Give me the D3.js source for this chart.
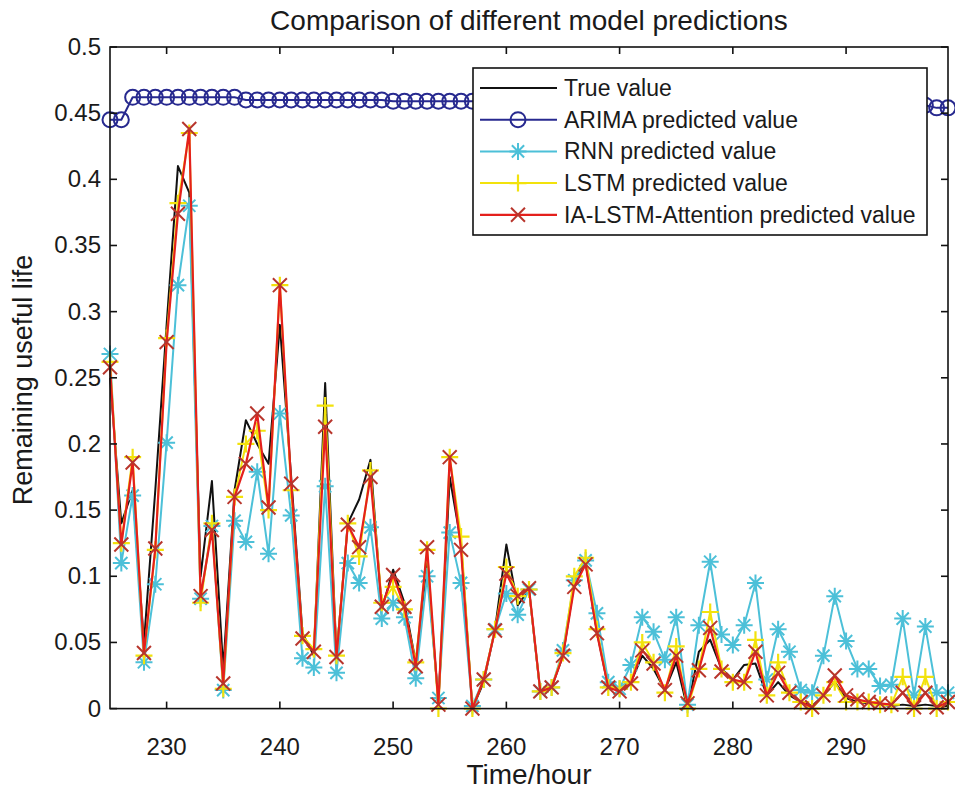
<!DOCTYPE html>
<html><head><meta charset="utf-8">
<script src="https://cdn.jsdelivr.net/npm/d3@7"></script>
<style>body{margin:0;background:#fff}svg{display:block}text{font-family:"Liberation Sans",Arial,sans-serif;fill:#1a1a1a}</style>
</head><body><svg id="c" width="955" height="792"></svg>
<script>
const hours = d3.range(225, 300);
const trueValue = [0.25,0.14,0.165,0.05,0.165,0.29,0.41,0.39,0.10,0.172,0.03,0.165,0.218,0.2,0.185,0.29,0.175,0.057,0.04,0.246,0.04,0.14,0.158,0.188,0.075,0.105,0.08,0.035,0.11,0.005,0.175,0.125,0.0,0.02,0.06,0.124,0.078,0.09,0.012,0.016,0.04,0.095,0.11,0.058,0.016,0.015,0.02,0.04,0.03,0.014,0.035,0.0,0.043,0.052,0.03,0.022,0.033,0.034,0.01,0.02,0.01,0.005,0.002,0.01,0.02,0.008,0.005,0.004,0.003,0.002,0.003,0.002,0.003,0.002,0.002];
const arimaPred = [0.445,0.445,0.462,0.462,0.462,0.462,0.462,0.462,0.462,0.462,0.462,0.462,0.46,0.46,0.46,0.46,0.46,0.46,0.46,0.46,0.46,0.46,0.46,0.46,0.46,0.459,0.459,0.459,0.459,0.459,0.459,0.459,0.459,0.459,0.459,0.459,0.459,0.459,0.459,0.459,0.459,0.459,0.459,0.459,0.459,0.459,0.459,0.459,0.459,0.459,0.459,0.459,0.459,0.459,0.459,0.459,0.459,0.459,0.459,0.459,0.459,0.459,0.459,0.459,0.459,0.459,0.459,0.459,0.459,0.459,0.459,0.459,0.456,0.454,0.454];
const rnnPred = [0.268,0.11,0.161,0.035,0.094,0.201,0.32,0.38,0.083,0.138,0.014,0.142,0.126,0.179,0.117,0.223,0.146,0.038,0.031,0.168,0.027,0.11,0.095,0.137,0.068,0.08,0.069,0.023,0.1,0.008,0.133,0.095,0.002,0.022,0.06,0.087,0.071,0.09,0.013,0.016,0.044,0.097,0.112,0.072,0.02,0.015,0.033,0.069,0.058,0.037,0.069,0.003,0.063,0.111,0.056,0.048,0.063,0.095,0.022,0.06,0.043,0.014,0.012,0.04,0.085,0.051,0.03,0.03,0.017,0.018,0.068,0.01,0.062,0.012,0.012];
const lstmPred = [0.262,0.125,0.19,0.04,0.12,0.28,0.382,0.435,0.08,0.14,0.015,0.16,0.2,0.21,0.15,0.32,0.165,0.055,0.045,0.229,0.04,0.14,0.115,0.18,0.08,0.092,0.075,0.035,0.12,0.0,0.19,0.13,0.0,0.022,0.06,0.107,0.085,0.09,0.013,0.016,0.042,0.1,0.114,0.06,0.016,0.015,0.02,0.05,0.035,0.012,0.047,0.0,0.03,0.073,0.03,0.02,0.02,0.052,0.01,0.035,0.012,0.005,0.0,0.01,0.02,0.005,0.005,0.005,0.003,0.003,0.024,0.0,0.024,0.0,0.005];
const iaPred = [0.258,0.124,0.186,0.042,0.121,0.277,0.374,0.438,0.085,0.135,0.019,0.16,0.185,0.223,0.152,0.32,0.17,0.053,0.043,0.213,0.039,0.139,0.122,0.175,0.077,0.101,0.077,0.032,0.122,0.003,0.19,0.12,0.0,0.022,0.059,0.102,0.085,0.091,0.013,0.016,0.04,0.092,0.109,0.057,0.016,0.013,0.019,0.044,0.034,0.014,0.04,0.004,0.029,0.061,0.028,0.022,0.02,0.043,0.01,0.027,0.012,0.005,0.001,0.01,0.025,0.01,0.007,0.005,0.004,0.003,0.012,0.001,0.012,0.001,0.005];
const xTicks = [230,240,250,260,270,280,290];
const yTicks = [0,0.05,0.1,0.15,0.2,0.25,0.3,0.35,0.4,0.45,0.5];
const seriesNames = ["True value","ARIMA predicted value","RNN predicted value","LSTM predicted value","IA-LSTM-Attention predicted value"];
const titleText = "Comparison of different model predictions";
const xLabel = "Time/hour";
const yLabel = "Remaining useful life";

const L=110,R=948,T=47,B=708.6;
const svg=d3.select("#c");
const x=d3.scaleLinear().domain([225,299]).range([L,R]);
const y=d3.scaleLinear().domain([0,0.5]).range([B,T]);

const styles=[
 {data:trueValue,color:"#111111",marker:"none",w:2},
 {data:arimaPred,color:"#27298f",marker:"circle",w:2},
 {data:rnnPred,color:"#4cc0d8",marker:"star",w:2},
 {data:lstmPred,color:"#f2e20c",marker:"plus",w:2},
 {data:iaPred,color:"#e4201c",marker:"x",w:2.2,mcolor:"#b8352c"}
];

function drawMarker(g,type,cx,cy,color){
  const s=8.5;
  if(type==="circle"){g.append("circle").attr("cx",cx).attr("cy",cy).attr("r",7.5).attr("fill","none").attr("stroke",color).attr("stroke-width",2);}
  else if(type==="plus"){g.append("path").attr("d",`M${cx-s},${cy}H${cx+s}M${cx},${cy-s}V${cy+s}`).attr("stroke",color).attr("stroke-width",2.2);}
  else if(type==="x"){const k=s*0.82;g.append("path").attr("d",`M${cx-k},${cy-k}L${cx+k},${cy+k}M${cx-k},${cy+k}L${cx+k},${cy-k}`).attr("stroke",color).attr("stroke-width",2);}
  else if(type==="star"){const k=s*0.72;g.append("path").attr("d",`M${cx-s},${cy}H${cx+s}M${cx},${cy-s}V${cy+s}M${cx-k},${cy-k}L${cx+k},${cy+k}M${cx-k},${cy+k}L${cx+k},${cy-k}`).attr("stroke",color).attr("stroke-width",2);}
}

svg.append("rect").attr("x",L).attr("y",T).attr("width",R-L).attr("height",B-T).attr("fill","#fff");
const plot=svg.append("g");
const line=d3.line().x((d,i)=>x(hours[i])).y(d=>y(d));
styles.forEach(s=>{
  const g=plot.append("g");
  g.append("path").datum(s.data).attr("d",line).attr("fill","none").attr("stroke",s.color).attr("stroke-width",s.w).attr("stroke-linejoin","round");
  if(s.marker!=="none") s.data.forEach((v,i)=>drawMarker(g,s.marker,x(hours[i]),y(v),s.mcolor||s.color));
});

const axG=svg.append("g").attr("stroke","#111").attr("stroke-width",1.6);
axG.append("rect").attr("x",L).attr("y",T).attr("width",R-L).attr("height",B-T).attr("fill","none");
const tl=7;
xTicks.forEach(t=>{axG.append("line").attr("x1",x(t)).attr("x2",x(t)).attr("y1",B).attr("y2",B-tl);
  axG.append("line").attr("x1",x(t)).attr("x2",x(t)).attr("y1",T).attr("y2",T+tl);});
yTicks.forEach(t=>{axG.append("line").attr("x1",L).attr("x2",L+tl).attr("y1",y(t)).attr("y2",y(t));
  axG.append("line").attr("x1",R).attr("x2",R-tl).attr("y1",y(t)).attr("y2",y(t));});
svg.append("g").selectAll("text").data(xTicks).join("text").attr("x",d=>x(d)).attr("y",755).attr("text-anchor","middle").attr("font-size",24).text(d=>d);
svg.append("g").selectAll("text").data(yTicks).join("text").attr("x",101).attr("y",d=>y(d)+8).attr("text-anchor","end").attr("font-size",24).text(d=>d3.format("")(d));

svg.append("text").attr("x",529).attr("y",30).attr("text-anchor","middle").attr("font-size",28).text(titleText);
svg.append("text").attr("x",529).attr("y",784).attr("text-anchor","middle").attr("font-size",28).text(xLabel);
svg.append("text").attr("transform","translate(32,380) rotate(-90)").attr("text-anchor","middle").attr("font-size",27).text(yLabel);

const lg=svg.append("g");
lg.append("rect").attr("x",473).attr("y",68).attr("width",454).attr("height",167).attr("fill","#fff").attr("stroke","#111").attr("stroke-width",1.6);
styles.forEach((s,i)=>{
  const cy=88+i*31.7;
  lg.append("line").attr("x1",480).attr("x2",557).attr("y1",cy).attr("y2",cy).attr("stroke",s.color).attr("stroke-width",s.w);
  if(s.marker!=="none") drawMarker(lg,s.marker,518,cy,s.mcolor||s.color);
  lg.append("text").attr("x",564).attr("y",cy+8).attr("font-size",23).text(seriesNames[i]);
});
</script></body></html>
